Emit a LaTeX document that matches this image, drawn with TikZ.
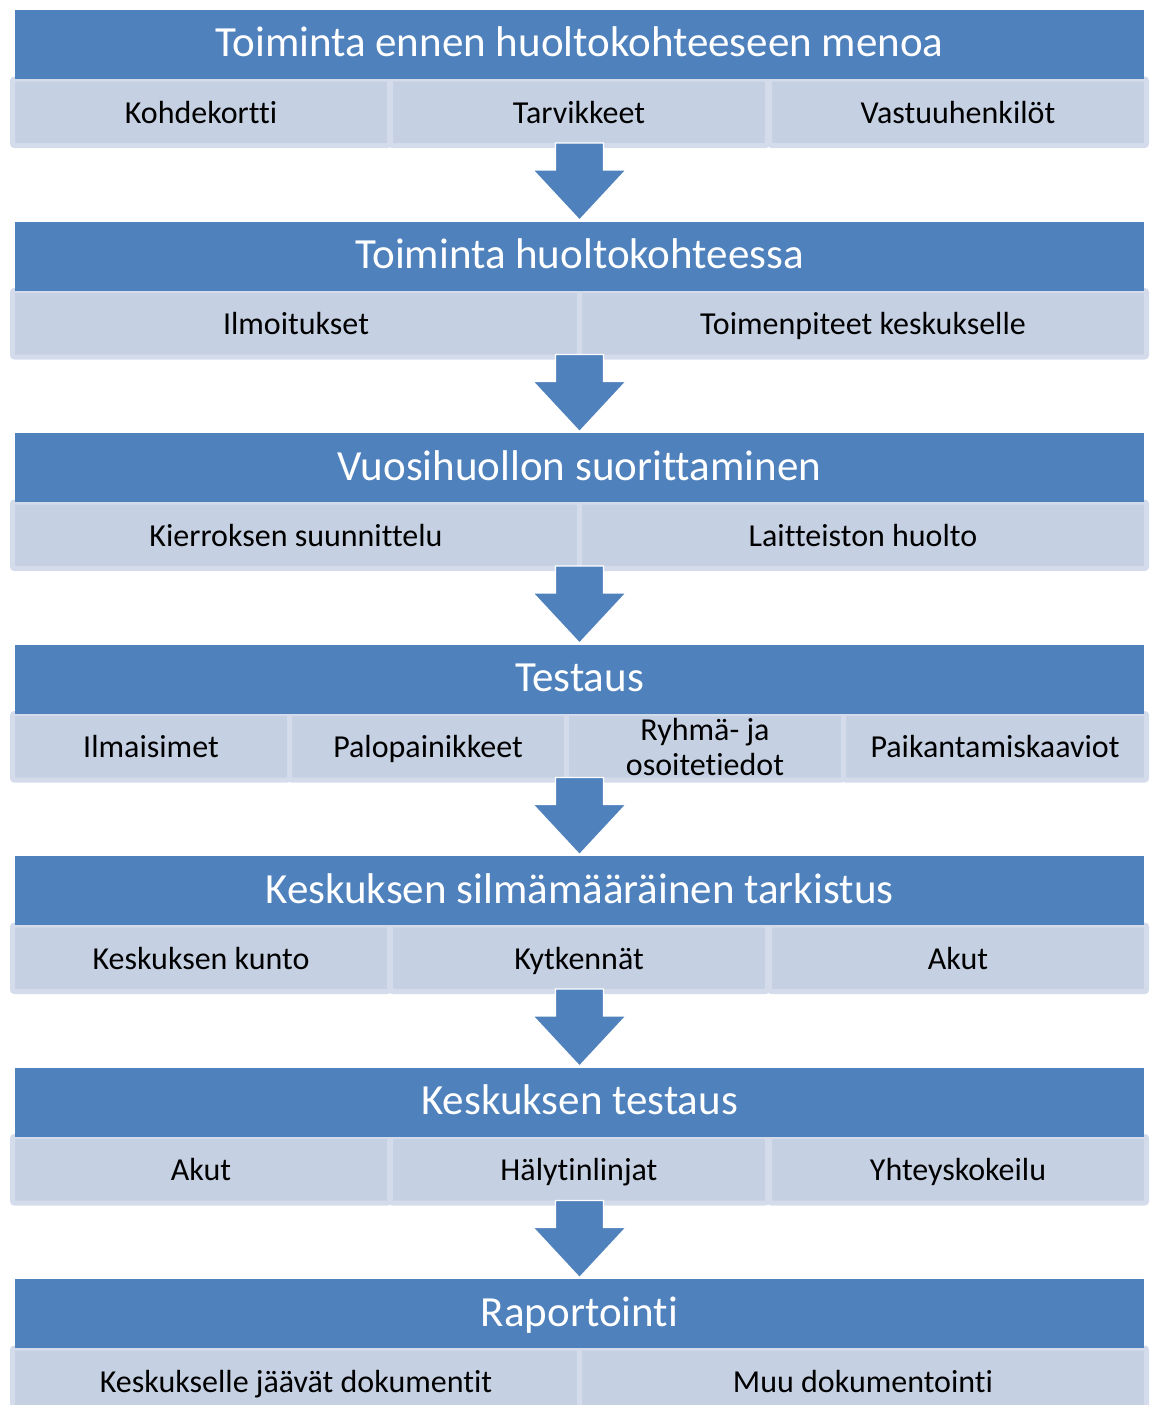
\documentclass[tikz,border=0pt]{standalone}
\usepackage{fontspec}
\setmainfont[Ligatures=NoCommon]{Carlito}
\usetikzlibrary{calc}
\definecolor{hdr}{HTML}{4F81BD}
\definecolor{cellfill}{HTML}{C5D0E3}
\definecolor{cellline}{HTML}{D4DCEB}
\tikzset{
  header/.style={fill=hdr, draw=none, minimum width=1129pt, minimum height=69pt,
    inner sep=0pt, outer sep=0pt, text=white, font=\fontsize{43}{50}\selectfont,
    text height=25pt, text depth=0pt},
  cell/.style={fill=cellfill, draw=cellline, line width=5pt, rounded corners=2pt,
    minimum height=66.5pt, inner sep=0pt, outer sep=0pt, text=black,
    font=\fontsize{32}{34.5}\selectfont, text height=21.5pt, text depth=0pt},
  cell3/.style={cell, minimum width=377pt},
  cell2/.style={cell, minimum width=567pt},
  cell4/.style={cell, minimum width=277pt},
  blockarrow/.style={fill=hdr, draw=white, line width=1.2pt,
    to path={let \p1=(\tikztostart), \p2=(\tikztotarget) in
      (\x1-24,\y1) -- (\x1+24,\y1) -- (\x1+24,\y2+50) -- (\x1+46.5,\y2+50) --
      (\x1,\y2) -- (\x1-46.5,\y2+50) -- (\x1-24,\y2+50) -- cycle}}
}
\begin{document}
\begin{tikzpicture}[x=1pt,y=-1pt]
\useasboundingbox (0,0) rectangle (1149,1405);
% Stage 1, T=10
\node[cell3] (c11) at (201,112.25) {Kohdekortti};
\node[cell3] (c12) at (579,112.25) {Tarvikkeet};
\node[cell3] (c13) at (958,112.25) {Vastuuhenkilöt};
\node[header] (h1) at (579.5,44.5) {Toiminta ennen huoltokohteeseen menoa};
% Stage 2, T=221.5
\node[cell2] (c21) at (296,323.75) {Ilmoitukset};
\node[cell2] (c22) at (863,323.75) {Toimenpiteet keskukselle};
\node[header] (h2) at (579.5,256) {Toiminta huoltokohteessa};
% Stage 3, T=433
\node[cell2] (c31) at (296,535.25) {Kierroksen suunnittelu};
\node[cell2] (c32) at (863,535.25) {Laitteiston huolto};
\node[header] (h3) at (579.5,467.5) {Vuosihuollon suorittaminen};
% Stage 4, T=644.5
\node[cell4] (c41) at (151,746.75) {Ilmaisimet};
\node[cell4] (c42) at (428,746.75) {Palopainikkeet};
\node[cell4, text height=, text depth=, align=center] (c43) at (705,746.75) {Ryhmä- ja\\osoitetiedot};
\node[cell, minimum width=303pt] (c44) at (995,746.75) {Paikantamiskaaviot};
\node[header] (h4) at (579.5,679) {Testaus};
% Stage 5, T=856
\node[cell3] (c51) at (201,958.25) {Keskuksen kunto};
\node[cell3] (c52) at (579,958.25) {Kytkennät};
\node[cell3] (c53) at (958,958.25) {Akut};
\node[header] (h5) at (579.5,890.5) {Keskuksen silmämääräinen tarkistus};
% Stage 6, T=1067.5
\node[cell3] (c61) at (201,1169.75) {Akut};
\node[cell3] (c62) at (579,1169.75) {Hälytinlinjat};
\node[cell3] (c63) at (958,1169.75) {Yhteyskokeilu};
\node[header] (h6) at (579.5,1102) {Keskuksen testaus};
% Stage 7, T=1279
\node[cell2] (c71) at (296,1381.25) {Keskukselle jäävät dokumentit};
\node[cell2] (c72) at (863,1381.25) {Muu dokumentointi};
\node[header] (h7) at (579.5,1313.5) {Raportointi};
% Arrows
\path[blockarrow] ([yshift=-64pt]h1.south) to ([yshift=1.5pt]h2.north);
\path[blockarrow] ([yshift=-64pt]h2.south) to ([yshift=1.5pt]h3.north);
\path[blockarrow] ([yshift=-64pt]h3.south) to ([yshift=1.5pt]h4.north);
\path[blockarrow] ([yshift=-64pt]h4.south) to ([yshift=1.5pt]h5.north);
\path[blockarrow] ([yshift=-64pt]h5.south) to ([yshift=1.5pt]h6.north);
\path[blockarrow] ([yshift=-64pt]h6.south) to ([yshift=1.5pt]h7.north);
\end{tikzpicture}
\end{document}
